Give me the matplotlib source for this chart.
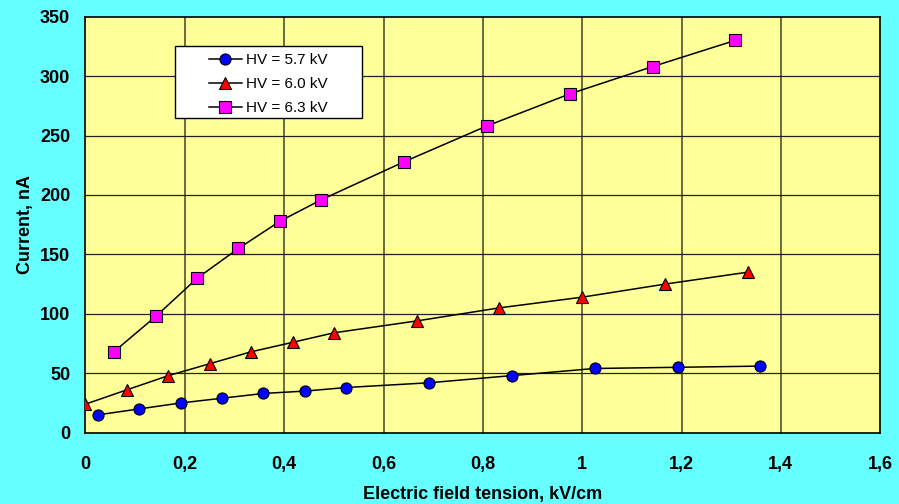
import matplotlib
matplotlib.use("Agg")
import matplotlib.pyplot as plt
from matplotlib.patches import Rectangle

plt.rcParams['font.family'] = ['Liberation Sans', 'DejaVu Sans']

# Current vs. field tension at three high-voltage settings
x_57 = [0.025, 0.108, 0.192, 0.275, 0.358, 0.442, 0.525, 0.692, 0.858, 1.025, 1.192, 1.358]
i_57 = [15, 20, 25, 29, 33, 35, 38, 42, 48, 54, 55, 56]

x_60 = [0.0, 0.083, 0.167, 0.25, 0.333, 0.417, 0.5, 0.667, 0.833, 1.0, 1.167, 1.333]
i_60 = [24, 36, 48, 58, 68, 76, 84, 94, 105, 114, 125, 135]

x_63 = [0.057, 0.142, 0.225, 0.308, 0.392, 0.475, 0.642, 0.808, 0.975, 1.142, 1.308]
i_63 = [68, 98, 130, 155, 178, 196, 228, 258, 285, 308, 330]

labels = ['HV = 5.7 kV', 'HV = 6.0 kV', 'HV = 6.3 kV']
x_ticks = [0, 0.2, 0.4, 0.6, 0.8, 1, 1.2, 1.4, 1.6]
x_ticklabels = ['0', '0,2', '0,4', '0,6', '0,8', '1', '1,2', '1,4', '1,6']
y_ticks = [0, 50, 100, 150, 200, 250, 300, 350]

fig = plt.figure(figsize=(8.99, 5.04), dpi=100, facecolor='#66FFFF')
ax = fig.add_axes([0.0951, 0.1415, 0.884, 0.8255])
ax.set_facecolor('#FFFF99')

# gridlines: vertical olive, horizontal black
for xv in x_ticks[1:-1]:
    ax.axvline(xv, color='#5f5f3a', lw=1.3, zorder=1)
for yv in y_ticks[1:-1]:
    ax.axhline(yv, color='#222222', lw=0.9, zorder=1)

series = [
    (x_57, i_57, 'o', '#0000FF', 8),
    (x_60, i_60, '^', '#FF0000', 8.5),
    (x_63, i_63, 's', '#FF00FF', 8),
]
handles = []
for (xs, ys, mk, col, ms), lab in zip(series, labels):
    h, = ax.plot(xs, ys, color='black', lw=1.1, marker=mk, markersize=ms,
                 markerfacecolor=col, markeredgecolor='black', markeredgewidth=0.8,
                 label=lab, zorder=3)
    handles.append(h)

ax.set_xlim(0, 1.6)
ax.set_ylim(0, 350)
ax.set_xticks(x_ticks)
ax.set_xticklabels(x_ticklabels)
ax.set_yticks(y_ticks)
ax.tick_params(axis='both', length=0, labelsize=13)
ax.tick_params(axis='x', pad=17)
ax.tick_params(axis='y', pad=11)
for lbl in ax.get_xticklabels() + ax.get_yticklabels():
    lbl.set_fontweight('bold')
for sp in ax.spines.values():
    sp.set_color('black')
    sp.set_linewidth(1.2)

ax.set_xlabel('Electric field tension, kV/cm', fontsize=13, fontweight='bold', labelpad=9)
ax.set_ylabel('Current, nA', fontsize=13, fontweight='bold', labelpad=4)

# legend box with wide side margins
ax.add_patch(Rectangle((0.112, 0.757), 0.2356, 0.173, transform=ax.transAxes,
                       facecolor='white', edgecolor='black', lw=1.0, zorder=4))
ax.legend(handles=handles, loc='center', bbox_to_anchor=(0.2298, 0.838),
          frameon=False, fontsize=11, handlelength=2.2, handletextpad=0.25,
          labelspacing=0.65, borderpad=0.2).set_zorder(5)

fig.savefig('out.png', dpi=100, facecolor=fig.get_facecolor())
